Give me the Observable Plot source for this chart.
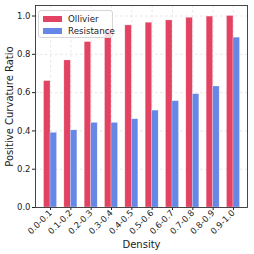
<!DOCTYPE html>
<html><head><meta charset="utf-8">
<script src="https://cdn.jsdelivr.net/npm/d3@7"></script>
<script src="https://cdn.jsdelivr.net/npm/@observablehq/plot@0.6"></script>
<style>
html,body{margin:0;padding:0;background:#fff;}
#wrap{position:relative;width:254px;height:254px;font-family:"DejaVu Sans",sans-serif;}
#legend{position:absolute;left:38px;top:10px;width:75px;height:28px;border:1px solid #d6d6d6;border-radius:3px;background:rgba(255,255,255,0.8);box-sizing:border-box;font-size:8.7px;color:#222;}
.row{position:absolute;left:4px;height:10px;display:flex;align-items:center;}
.sw{width:19px;height:6px;margin-right:6px;}
</style></head>
<body><div id="wrap"><div id="legend"></div></div>
<script>
const categories = ["0.0-0.1","0.1-0.2","0.2-0.3","0.3-0.4","0.4-0.5","0.5-0.6","0.6-0.7","0.7-0.8","0.8-0.9","0.9-1.0"];
const ollivier = [0.66, 0.768, 0.864, 0.928, 0.951, 0.965, 0.977, 0.991, 0.997, 1.0];
const resistance = [0.39, 0.403, 0.442, 0.442, 0.461, 0.506, 0.555, 0.592, 0.632, 0.887];
const seriesNames = ["Ollivier", "Resistance"];
const seriesColors = ["#E34363", "#6787E7"];
const yTicks = [0, 0.2, 0.4, 0.6, 0.8, 1.0];

const bw = 0.32;
const data = [];
categories.forEach((c, i) => {
  data.push({i, s: 0, v: ollivier[i]});
  data.push({i, s: 1, v: resistance[i]});
});

const plot = Plot.plot({
  width: 254, height: 254,
  marginLeft: 35, marginRight: 7, marginTop: 5, marginBottom: 47,
  style: {fontFamily: "DejaVu Sans, sans-serif", fontSize: "8.5px", color: "#222", background: "white"},
  x: {domain: [-0.74, 9.69]},
  y: {domain: [0, 1.055]},
  marks: [
    Plot.gridY(yTicks, {stroke: "#b0b0b0", strokeOpacity: 0.5, strokeDasharray: "2.5,2.5", strokeWidth: 0.6}),
    Plot.gridX(d3.range(categories.length), {stroke: "#b0b0b0", strokeOpacity: 0.5, strokeDasharray: "2.5,2.5", strokeWidth: 0.6}),
    Plot.rectY(data, {
      x1: d => d.s === 0 ? d.i - bw : d.i,
      x2: d => d.s === 0 ? d.i : d.i + bw,
      y1: 0, y2: "v",
      fill: d => seriesColors[d.s],
      stroke: "white", strokeOpacity: 0.5, strokeWidth: 0.5
    }),
    Plot.axisY({ticks: yTicks, tickFormat: d3.format(".1f"), tickSize: 3, tickPadding: 2, fontSize: 8.5, label: null}),
    Plot.axisY({ticks: [], label: "Positive Curvature Ratio", labelAnchor: "center", labelArrow: "none", labelOffset: 30, fontSize: 10}),
    Plot.axisX({ticks: d3.range(categories.length), tickFormat: i => categories[i], tickSize: 3,
      tickRotate: -45, tickPadding: 1, fontSize: 8.5, label: null}),
    Plot.axisX({ticks: [], label: "Density", labelAnchor: "center", labelArrow: "none", labelOffset: 40, fontSize: 10}),
    Plot.frame({stroke: "#333", strokeWidth: 0.9})
  ]
});
document.getElementById("wrap").prepend(plot);

const lg = document.getElementById("legend");
seriesNames.forEach((n, k) => {
  const r = document.createElement("div");
  r.className = "row";
  r.style.top = (3 + k * 12) + "px";
  r.innerHTML = `<span class="sw" style="background:${seriesColors[k]}"></span><span>${n}</span>`;
  lg.appendChild(r);
});
</script></body></html>
